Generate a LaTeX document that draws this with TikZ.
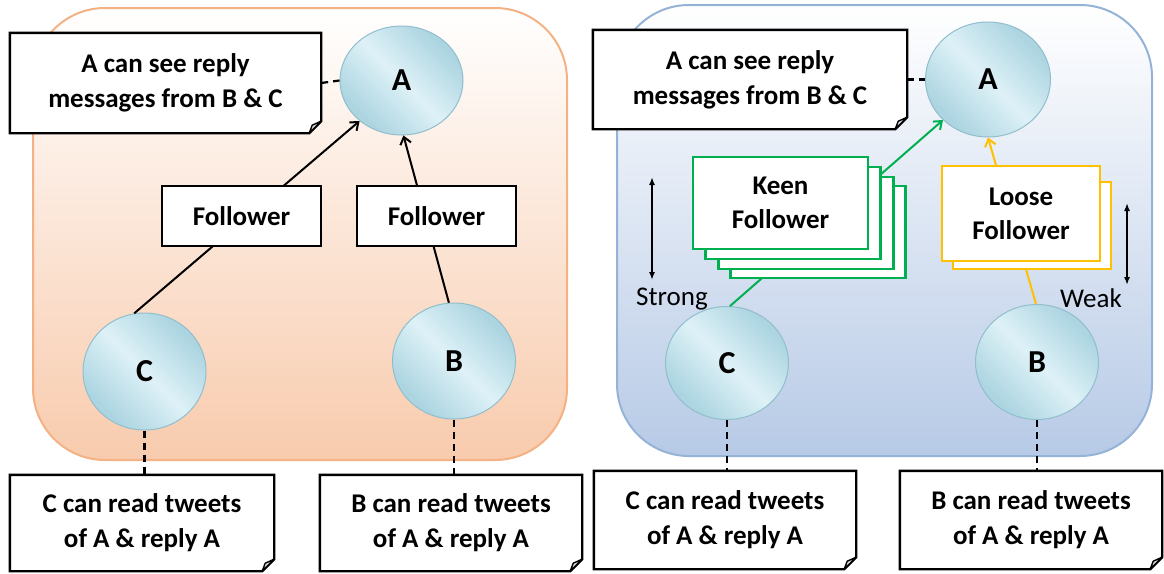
\documentclass[tikz,border=0pt]{standalone}
\usepackage{fontspec}
\setmainfont{Carlito}
\usetikzlibrary{shapes.geometric,arrows.meta,calc}

\definecolor{peach}{RGB}{248,203,173}
\definecolor{peachline}{RGB}{244,177,131}
\definecolor{steel}{RGB}{183,202,230}
\definecolor{steelline}{RGB}{149,179,215}
\definecolor{orbdark}{RGB}{172,213,225}
\definecolor{orblight}{RGB}{222,241,247}
\definecolor{orbline}{RGB}{145,190,204}
\definecolor{keen}{RGB}{0,176,80}
\definecolor{loose}{RGB}{255,192,0}

\pgfdeclarehorizontalshading{orbshade}{100bp}{color(0bp)=(orbdark); color(27bp)=(orbdark); color(50bp)=(orblight); color(73bp)=(orbdark); color(100bp)=(orbdark)}

\pgfdeclarelayer{back}
\pgfdeclarelayer{mid}
\pgfsetlayers{back,mid,main}

\tikzset{
  panel/.style={line width=2pt, rounded corners=72pt},
  orb/.style={ellipse, draw=orbline, line width=1pt, shading=orbshade, shading angle=45,
    inner sep=0pt, font=\fontsize{32}{32}\selectfont\bfseries},
  tag/.style={rectangle, draw=black, line width=2.4pt, fill=white, inner sep=0pt,
    align=center, font=\fontsize{27}{34}\selectfont\bfseries},
  note/.style={rectangle, inner sep=0pt, align=center, font=\fontsize{27}{35}\selectfont\bfseries},
  link/.style={line width=2pt},
  tip/.style={-{Straight Barb[length=7pt,width=11pt]}},
  pointer/.style={line width=2.2pt, dash pattern=on 7pt off 5pt},
  span arrow/.style={line width=2pt, {Latex[length=8pt,width=6pt]}-{Latex[length=8pt,width=6pt]}},
  plain/.style={font=\fontsize{27}{27}\selectfont, inner sep=0pt},
}

% paper outline with a folded bottom-right corner, drawn behind a note node
\newcommand\foldnote[1]{%
  \begin{pgfonlayer}{mid}
    \draw[line width=2.4pt, fill=white, line join=miter]
      (#1.north west) -- (#1.north east) -- ($(#1.south east)+(0,-12)$)
      -- ($(#1.south east)+(-12,0)$) -- (#1.south west) -- cycle;
    \draw[line width=1.4pt, fill=gray!25, line join=round]
      ($(#1.south east)+(-12,0)$) -- ($(#1.south east)+(-9,-8)$)
      -- ($(#1.south east)+(0,-12)$) -- cycle;
  \end{pgfonlayer}}

\begin{document}
\begin{tikzpicture}[x=1pt,y=-1pt]
\useasboundingbox (0,0) rectangle (1164,573);

% the two panels
\begin{pgfonlayer}{back}
  \shade[panel, top color=white, bottom color=peach, draw=peachline] (33,8) rectangle (567,460);
  \shade[panel, top color=white, bottom color=steel, draw=steelline] (617,5) rectangle (1152,456);
\end{pgfonlayer}

% users
\node[orb, minimum width=123pt, minimum height=109pt] (A1) at (401.5,80.5) {A};
\node[orb, minimum width=123pt, minimum height=117pt] (C1) at (144.5,371.5) {C};
\node[orb, minimum width=123pt, minimum height=116pt] (B1) at (454,361) {B};
\node[orb, minimum width=125pt, minimum height=115pt] (A2) at (988,79.5) {A};
\node[orb, minimum width=123pt, minimum height=113pt] (C2) at (727,363) {C};
\node[orb, minimum width=123pt, minimum height=115pt] (B2) at (1037,362) {B};

% follow relations
\draw[link,tip] (C1.100) -- (A1.224);
\draw[link,tip] (B1.95) -- (A1.272);
\draw[link,tip,keen] (C2.87) -- (A2.222);
\draw[link,tip,loose] (B2.91) -- (A2.270);

\node[tag, minimum width=159pt, minimum height=60pt] (f1) at (241.5,216) {Follower};
\node[tag, minimum width=159pt, minimum height=60pt] (f2) at (436.5,216) {Follower};

\node[tag, draw=keen, minimum width=175pt, minimum height=92pt] (k4) at (818,232) {};
\node[tag, draw=keen, minimum width=175pt, minimum height=92pt] (k3) at (806,223) {};
\node[tag, draw=keen, minimum width=175pt, minimum height=92pt] (k2) at (793,213) {};
\node[tag, draw=keen, minimum width=175pt, minimum height=92pt] (k1) at (780.5,203) {Keen\\Follower};

\node[tag, draw=loose, minimum width=158pt, minimum height=87pt] (l2) at (1032,225.5) {};
\node[tag, draw=loose, minimum width=158pt, minimum height=95pt] (l1) at (1021,213.5) {Loose\\Follower};

% tie strength
\coordinate (s1) at (652,177);
\coordinate (s2) at (652,280);
\draw[span arrow] (s1) -- (s2);
\node[plain, anchor=base] (strong) at (672,305) {Strong};
\coordinate (w1) at (1127,203);
\coordinate (w2) at (1127,285);
\draw[span arrow] (w1) -- (w2);
\node[plain, anchor=base] (weak) at (1091,307) {Weak};

% notes
\node[note, minimum width=311pt, minimum height=100pt] (ta) at (165.5,83) {A can see reply\\messages from B \& C};
\node[note, minimum width=314pt, minimum height=99pt] (tb) at (750,79.5) {A can see reply\\messages from B \& C};
\node[note, minimum width=264pt, minimum height=96pt] (nc1) at (142,523) {C can read tweets\\of A \& reply A};
\node[note, minimum width=262pt, minimum height=96pt] (nb1) at (451,523) {B can read tweets\\of A \& reply A};
\node[note, minimum width=262pt, minimum height=98pt] (nc2) at (725,520) {C can read tweets\\of A \& reply A};
\node[note, minimum width=262pt, minimum height=98pt] (nb2) at (1031,520) {B can read tweets\\of A \& reply A};
\foldnote{ta}
\foldnote{tb}
\foldnote{nc1}
\foldnote{nb1}
\foldnote{nc2}
\foldnote{nb2}

\draw[pointer] (ta.east) -- (A1.west);
\draw[pointer] (tb.east) -- (A2.west);
\draw[pointer] (C1.south) -- (C1.south |- nc1.north);
\draw[pointer] (B1.south) -- (B1.south |- nb1.north);
\draw[pointer] (C2.south) -- (C2.south |- nc2.north);
\draw[pointer] (B2.south) -- (B2.south |- nb2.north);
\end{tikzpicture}
\end{document}
